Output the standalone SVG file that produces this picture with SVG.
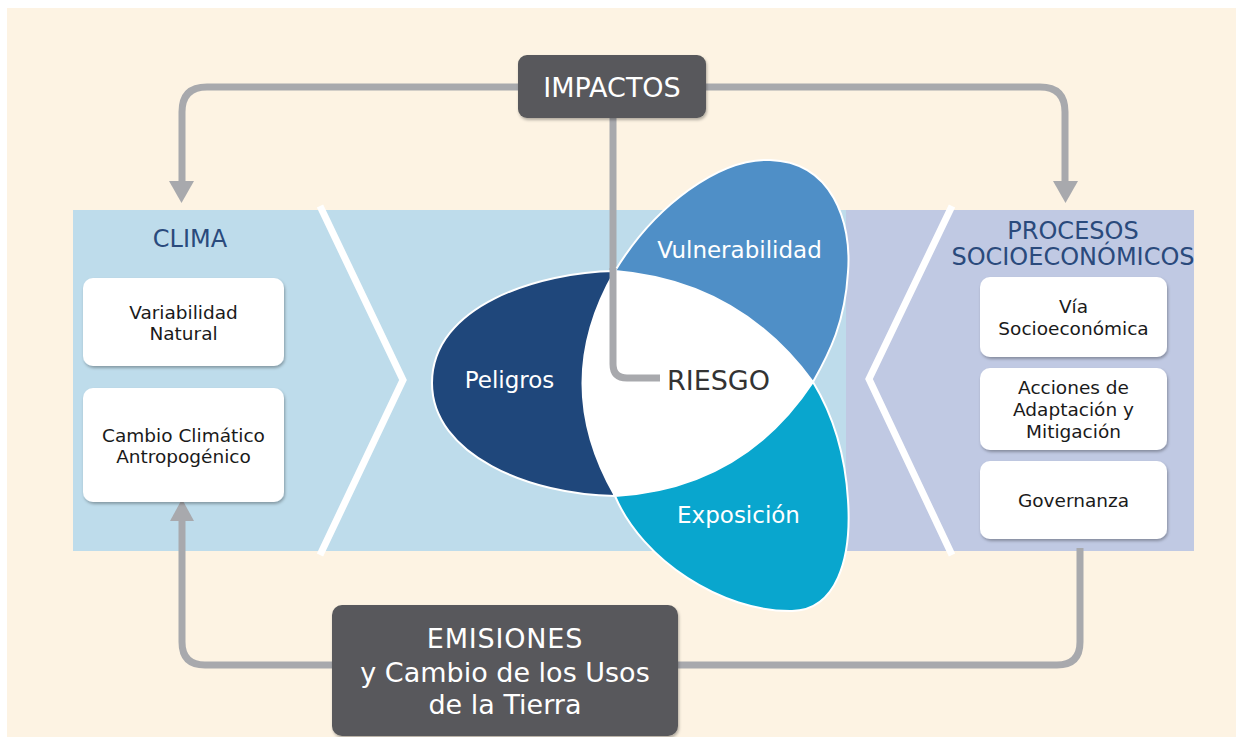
<svg xmlns="http://www.w3.org/2000/svg" width="1236" height="737" viewBox="0 0 1236 737">
<style>
.t{font-family:"DejaVu Sans",Verdana,sans-serif;text-anchor:middle}
.box{fill:#ffffff}
.bt{font-size:18.5px;fill:#1a1a1a}
.hd{font-size:24px;fill:#2a4a7c}
.dk{fill:#58595b}
.wt{fill:#ffffff;font-size:27px}
.pt{fill:#ffffff;font-size:23px}
.con{fill:none;stroke:#a8a9ad;stroke-width:7}
.ah{fill:#a8a9ad}
.chev{fill:none;stroke:#ffffff;stroke-width:7}
</style>
<defs>
<filter id="sh" x="-10%" y="-10%" width="125%" height="130%">
<feDropShadow dx="1" dy="2" stdDeviation="1.5" flood-color="#000" flood-opacity="0.3"/>
</filter>
</defs>
<rect x="0" y="0" width="1236" height="737" fill="#ffffff"/>
<rect x="7" y="8" width="1229" height="729" fill="#fdf3e3"/>
<g id="band">
<rect x="73" y="210" width="775" height="341" fill="#bedceb"/>
<rect x="846" y="210" width="348" height="341" fill="#c0c9e3"/>
<polyline class="chev" points="320,206 403,380 320,555"/>
<polyline class="chev" points="952,206 869,379 952,555"/>
</g>
<g id="connectors">
<path class="con" d="M612,87 H207 Q182,87 182,112 V184"/>
<polygon class="ah" points="169,181 194,181 181.5,203"/>
<path class="con" d="M612,87 H1040 Q1065,87 1065,112 V184"/>
<polygon class="ah" points="1053,181 1078,181 1065.5,203"/>
<path class="con" d="M613,115 V364 Q613,378 627,378 H660" stroke-width="8"/>
<path class="con" d="M1080,548 V642 Q1080,665 1057,665 H205 Q182,665 182,642 V518"/>
<polygon class="ah" points="170,521 194,521 182,499"/>
</g>
<g id="impactos">
<rect class="dk" x="518" y="55" width="188" height="63" rx="9" filter="url(#sh)"/>
<text class="t wt" x="612" y="97">IMPACTOS</text>
</g>
<g id="emisiones">
<rect class="dk" x="332" y="605" width="346" height="131" rx="10" filter="url(#sh)"/>
<text class="t wt" x="505" y="648" letter-spacing="0.8">EMISIONES</text>
<text class="t wt" x="505" y="682">y Cambio de los Usos</text>
<text class="t wt" x="505" y="714">de la Tierra</text>
</g>
<g id="clima">
<text class="t hd" x="190" y="247">CLIMA</text>
</g>
<g id="variabilidad">
<rect class="box" x="83" y="278" width="201" height="88" rx="10" filter="url(#sh)"/>
<text class="t bt" x="183.5" y="319">Variabilidad</text>
<text class="t bt" x="183.5" y="340">Natural</text>
</g>
<g id="cambio">
<rect class="box" x="83" y="388" width="201" height="114" rx="10" filter="url(#sh)"/>
<text class="t bt" x="183.5" y="442">Cambio Climático</text>
<text class="t bt" x="183.5" y="463">Antropogénico</text>
</g>
<g id="procesos">
<text class="t hd" x="1073" y="239">PROCESOS</text>
<text class="t hd" x="1073" y="265">SOCIOECONÓMICOS</text>
</g>
<g id="via">
<rect class="box" x="980" y="277" width="187" height="80" rx="10" filter="url(#sh)"/>
<text class="t bt" x="1073.5" y="313">Vía</text>
<text class="t bt" x="1073.5" y="335">Socioeconómica</text>
</g>
<g id="acciones">
<rect class="box" x="980" y="368" width="187" height="82" rx="10" filter="url(#sh)"/>
<text class="t bt" x="1073.5" y="394">Acciones de</text>
<text class="t bt" x="1073.5" y="416">Adaptación y</text>
<text class="t bt" x="1073.5" y="438">Mitigación</text>
</g>
<g id="governanza">
<rect class="box" x="980" y="461" width="187" height="78" rx="10" filter="url(#sh)"/>
<text class="t bt" x="1073.5" y="507">Governanza</text>
</g>
<g id="peligros">
<path d="M615,271 C540,272 432,305 432,383 C432,455 530,495 615,496 Q550,383 615,271 Z" fill="#1f477b" stroke="#ffffff" stroke-width="2"/>
<text class="t pt" x="509.5" y="388">Peligros</text>
</g>
<g id="vulnerabilidad">
<path d="M615,271 C655,205 720,158 770,160 C832,162 852,222 848,272 C845,322 830,352 813,382 Q739,281 615,271 Z" fill="#4f8fc7" stroke="#ffffff" stroke-width="2"/>
<text class="t pt" x="739.5" y="258">Vulnerabilidad</text>
</g>
<g id="exposicion">
<path d="M615,496 C642,560 722,612 792,611 C836,610 852,560 848,500 C845,450 830,410 813,382 Q742.6,488.6 615,496 Z" fill="#09a6ce" stroke="#ffffff" stroke-width="2"/>
<text class="t pt" x="738.5" y="523">Exposición</text>
</g>
<g id="riesgo">
<path d="M615,271 Q739,281 813,382 Q742.6,488.6 615,496 Q550,383 615,271 Z" fill="#ffffff"/>
<path class="con" d="M613,268 V364 Q613,378 627,378 H660" stroke-width="8"/>
<text class="t" x="718.5" y="390" font-size="27" fill="#333333">RIESGO</text>
</g>
</svg>
